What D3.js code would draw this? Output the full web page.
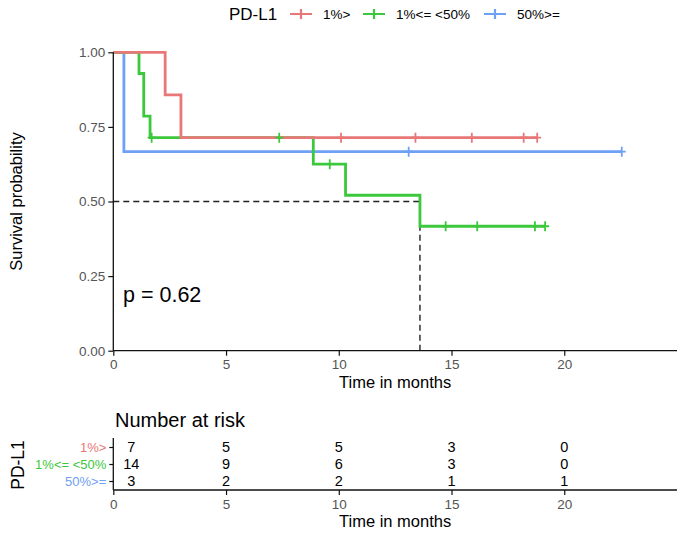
<!DOCTYPE html>
<html><head><meta charset="utf-8">
<script src="https://cdn.jsdelivr.net/npm/d3@7"></script>
<style>
body{margin:0;background:#fff;}
svg{display:block;font-family:"Liberation Sans",Arial,Helvetica,sans-serif;}
</style></head>
<body><svg id="c" width="685" height="533"></svg>
<script>
// ---- data ----
const strata = ["1%>", "1%<= <50%", "50%>="];
const colors = ["#E87878", "#3CC83C", "#6EA0F5"];
// step curves
const redTimes   = [0, 2.3, 3.0, 18.8];
const redSurv    = [1, 0.857, 0.714, 0.714];
const greenTimes = [0, 1.14, 1.35, 1.63, 8.87, 10.3, 13.6, 19.15];
const greenSurv  = [1, 0.929, 0.786, 0.714, 0.625, 0.521, 0.417, 0.417];
const blueTimes  = [0, 0.47, 22.55];
const blueSurv   = [1, 0.667, 0.667];
// censor marks
const redCensT   = [10.1, 13.4, 15.9, 18.2, 18.8];
const redCensS   = [0.714, 0.714, 0.714, 0.714, 0.714];
const greenCensT = [1.7, 7.36, 9.6, 14.74, 16.14, 18.7, 19.15];
const greenCensS = [0.714, 0.714, 0.625, 0.417, 0.417, 0.417, 0.417];
const blueCensT  = [13.1, 22.55];
const blueCensS  = [0.667, 0.667];
// median
const medianTime = 13.6;
const medianSurv = 0.5;
// axis ticks
const xTicks = [0, 5, 10, 15, 20];
const yTicks = [0, 0.25, 0.5, 0.75, 1];
const yTickLabels = ["0.00", "0.25", "0.50", "0.75", "1.00"];
// number at risk
const riskTimes = [0, 5, 10, 15, 20];
const riskRed   = [7, 5, 5, 3, 0];
const riskGreen = [14, 9, 6, 3, 0];
const riskBlue  = [3, 2, 2, 1, 1];
const pText = "p = 0.62";

// ---- build ----
const series = [
  {name: strata[0], color: colors[0], t: redTimes, s: redSurv, ct: redCensT, cs: redCensS, risk: riskRed},
  {name: strata[1], color: colors[1], t: greenTimes, s: greenSurv, ct: greenCensT, cs: greenCensS, risk: riskGreen},
  {name: strata[2], color: colors[2], t: blueTimes, s: blueSurv, ct: blueCensT, cs: blueCensS, risk: riskBlue}
];

const svg = d3.select("#c");
const L = 113.3, R = 677;
const x = d3.scaleLinear().domain([0, 25]).range([L, R]);
const y = d3.scaleLinear().domain([0, 1]).range([350.7, 52.3]);
const tickGray = "#555";

// median dashed lines
const g = svg.append("g");
g.append("path")
  .attr("d", `M${x(0)},${y(medianSurv)}H${x(medianTime)}V${y(0)}`)
  .attr("fill", "none").attr("stroke", "#222").attr("stroke-width", 1.4)
  .attr("stroke-dasharray", "6,4");

// curves
const line = d3.line().x(d => x(d[0])).y(d => y(d[1])).curve(d3.curveStepAfter);
series.slice().reverse().forEach(sr => {
  const pts = sr.t.map((t, i) => [t, sr.s[i]]);
  g.append("path").attr("d", line(pts)).attr("fill", "none")
    .attr("stroke", sr.color).attr("stroke-width", 2.8);
});
series.forEach(sr => {
  sr.ct.forEach((t, i) => {
    const cx = x(t), cy = y(sr.cs[i]);
    g.append("path").attr("d", `M${cx - 4},${cy}H${cx + 4}M${cx},${cy - 5}V${cy + 5}`)
      .attr("stroke", sr.color).attr("stroke-width", 1.8);
  });
});

// axes main
const xAxis = d3.axisBottom(x).tickValues(xTicks).tickSize(5).tickPadding(4);
const gx = svg.append("g").attr("transform", `translate(0,${y(0)})`).call(xAxis);
gx.select(".domain").attr("d", `M${L},0H${R}`).attr("stroke", "#111").attr("stroke-width", 1.3);
gx.selectAll(".tick line").attr("stroke", "#111").attr("stroke-width", 1.2);
gx.selectAll(".tick text").attr("fill", tickGray).attr("font-size", 13.5).attr("font-family", null);

const yAxis = d3.axisLeft(y).tickValues(yTicks).tickFormat((d, i) => yTickLabels[i]).tickSize(5).tickPadding(3);
const gy = svg.append("g").attr("transform", `translate(${L},0)`).call(yAxis);
gy.select(".domain").attr("d", `M0,${y(1)}V${y(0)}`).attr("stroke", "#111").attr("stroke-width", 1.3);
gy.selectAll(".tick line").attr("stroke", "#111").attr("stroke-width", 1.2);
gy.selectAll(".tick text").attr("fill", tickGray).attr("font-size", 13.5).attr("font-family", null);

svg.append("text").attr("x", (L + R) / 2).attr("y", 388).attr("text-anchor", "middle")
  .attr("font-size", 16.5).text("Time in months");
svg.append("text").attr("transform", `translate(22,${y(0.5)}) rotate(-90)`).attr("text-anchor", "middle")
  .attr("font-size", 16.5).text("Survival probability");
svg.append("text").attr("x", 123).attr("y", 301.5).attr("font-size", 21.5).text(pText);

// legend
const lg = svg.append("g");
lg.append("text").attr("x", 229).attr("y", 19.5).attr("font-size", 17).text("PD-L1");
const keyX = [290, 363, 484];
series.forEach((sr, i) => {
  const kx = keyX[i];
  lg.append("path").attr("d", `M${kx},14H${kx + 22}M${kx + 11},9V19`)
    .attr("stroke", sr.color).attr("stroke-width", 2.2);
  lg.append("text").attr("x", kx + 33).attr("y", 19).attr("font-size", 13.5).text(sr.name);
});

// risk table
const ry = d3.scalePoint().domain(strata).range([447, 481]);
const rBase = 490;
svg.append("text").attr("x", 115).attr("y", 427).attr("font-size", 20).text("Number at risk");
const rt = svg.append("g");
series.forEach(sr => {
  sr.risk.forEach((n, i) => {
    const t = riskTimes[i];
    rt.append("text").attr("x", x(t) + (t === 0 ? 18 : 0)).attr("y", ry(sr.name) + 5.3)
      .attr("text-anchor", "middle").attr("font-size", 14.5).text(n);
  });
});
const rxAxis = d3.axisBottom(x).tickValues(xTicks).tickSize(5).tickPadding(4);
const grx = svg.append("g").attr("transform", `translate(0,${rBase})`).call(rxAxis);
grx.select(".domain").attr("d", `M${L},0H${R}`).attr("stroke", "#111").attr("stroke-width", 1.3);
grx.selectAll(".tick line").attr("stroke", "#111").attr("stroke-width", 1.2);
grx.selectAll(".tick text").attr("fill", tickGray).attr("font-size", 13.5).attr("font-family", null);

const ryAxis = d3.axisLeft(ry).tickSize(4).tickPadding(3);
const gry = svg.append("g").attr("transform", `translate(${L},0)`).call(ryAxis);
gry.select(".domain").attr("d", `M0,438V${rBase}`).attr("stroke", "#111").attr("stroke-width", 1.3);
gry.selectAll(".tick line").attr("stroke", "#111").attr("stroke-width", 1.2);
gry.selectAll(".tick text").attr("fill", (d, i) => colors[i]).attr("font-size", 13).attr("font-family", null);

svg.append("text").attr("x", (L + R) / 2).attr("y", 527).attr("text-anchor", "middle")
  .attr("font-size", 16.5).text("Time in months");
svg.append("text").attr("transform", `translate(24,465) rotate(-90)`).attr("text-anchor", "middle")
  .attr("font-size", 17.5).text("PD-L1");
</script></body></html>
